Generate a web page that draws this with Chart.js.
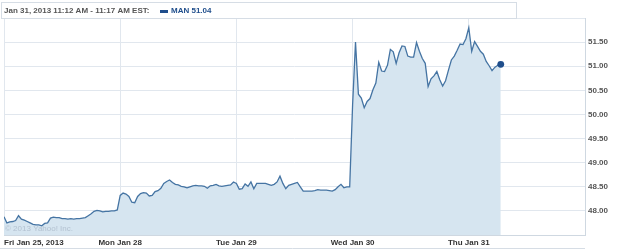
<!DOCTYPE html>
<html>
<head>
<meta charset="utf-8">
<script src="https://cdn.jsdelivr.net/npm/chart.js@4.4.0/dist/chart.umd.min.js"></script>
<style>
body { margin: 0; background: #fff; }
#wrap { width: 625px; height: 251px; }
</style>
</head>
<body>
<div id="wrap"><canvas id="mycanvas"></canvas></div>
<script>
// MAN, 5 trading days, ~10 minute samples (40 per day)
var dayLabels = ['Fri Jan 25, 2013', 'Mon Jan 28', 'Tue Jan 29', 'Wed Jan 30', 'Thu Jan 31'];
var yTicks = [47.5, 48, 48.5, 49, 49.5, 50, 50.5, 51, 51.5, 52];

var fri = [47.88, 47.75, 47.77, 47.78, 47.80, 47.90, 47.83, 47.81, 47.78, 47.75,
           47.72, 47.71, 47.71, 47.69, 47.74, 47.75, 47.85, 47.87, 47.86, 47.86,
           47.84, 47.84, 47.83, 47.84, 47.83, 47.84, 47.84, 47.85, 47.86, 47.90,
           47.94, 47.99, 48.01, 48.00, 47.98, 47.99, 47.99, 48.00, 48.00, 48.02];
var mon = [48.32, 48.37, 48.35, 48.30, 48.18, 48.17, 48.30, 48.36, 48.38, 48.37,
           48.31, 48.32, 48.40, 48.42, 48.47, 48.57, 48.61, 48.64, 48.59, 48.55,
           48.54, 48.51, 48.50, 48.48, 48.50, 48.52, 48.53, 48.52, 48.52, 48.51,
           48.47, 48.52, 48.53, 48.55, 48.52, 48.51, 48.52, 48.53, 48.54, 48.60];
var tue = [48.57, 48.45, 48.46, 48.56, 48.51, 48.60, 48.46, 48.57, 48.57, 48.57,
           48.57, 48.55, 48.53, 48.55, 48.60, 48.72, 48.57, 48.46, 48.53, 48.55,
           48.57, 48.59, 48.50, 48.41, 48.41, 48.41, 48.41, 48.42, 48.44, 48.43,
           48.43, 48.43, 48.42, 48.41, 48.44, 48.50, 48.55, 48.48, 48.50, 48.50];
var wed = [50.20, 51.50, 50.42, 50.34, 50.14, 50.27, 50.33, 50.51, 50.65, 51.08,
           50.90, 50.89, 51.02, 51.35, 51.30, 51.06, 51.28, 51.42, 51.41, 51.21,
           51.19, 51.19, 51.49, 51.31, 51.16, 51.06, 50.58, 50.74, 50.80, 50.89,
           50.72, 50.59, 50.70, 50.92, 51.13, 51.21, 51.33, 51.46, 51.45, 51.57];
var thu = [51.80, 51.31, 51.51, 51.41, 51.31, 51.25, 51.10, 51.01, 50.91, 50.98,
           51.02, 51.04];

var days = [fri, mon, tue, wed, thu];
var perDay = 40;

var points = [];
for (var d = 0; d < days.length; d++) {
    for (var i = 0; i < days[d].length; i++) {
        points.push({ x: d + i / perDay, y: days[d][i] });
    }
}
var last = points.length - 1;

var gridColor = '#e1e7ee';
var labelFont = { family: 'Liberation Sans', size: 8, weight: 'bold' };

var frame = {
    id: 'frame',
    afterDraw: function(chart) {
        var c = chart.ctx;
        c.save();
        // watermark
        c.font = '8px "Liberation Sans"';
        c.fillStyle = 'rgba(175,190,205,0.9)';
        c.textBaseline = 'middle';
        c.fillText('\u00a9 2013 Yahoo! Inc.', 5, 229);
        // header box
        c.strokeStyle = '#d6dde5';
        c.lineWidth = 1;
        c.strokeRect(1.5, 2.5, 515, 16);
        c.font = 'bold 8px "Liberation Sans"';
        c.fillStyle = '#555';
        c.fillText('Jan 31, 2013 11:12 AM - 11:17 AM EST:', 4, 11);
        c.fillStyle = '#1f4e8c';
        c.fillRect(160, 10, 8, 3);
        c.fillText('MAN 51.04', 171, 11);
        // bottom frame line
        c.strokeStyle = '#d6dde5';
        c.beginPath();
        c.moveTo(0, 248.5);
        c.lineTo(585, 248.5);
        c.stroke();
        c.restore();
    }
};

var ctx = document.getElementById('mycanvas');

var lineChart = new Chart(ctx, {
    type: 'line',
    data: {
        datasets: [{
            label: 'MAN',
            data: points,
            borderColor: '#4574a3',
            borderWidth: 1.3,
            backgroundColor: '#d6e5f0',
            fill: 'start',
            tension: 0,
            pointRadius: function(c) { return c.dataIndex === last ? 3.4 : 0; },
            pointBackgroundColor: '#1f4e8c',
            pointBorderColor: '#1f4e8c',
            pointBorderWidth: 0
        }]
    },
    options: {
        responsive: true,
        maintainAspectRatio: false,
        animation: false,
        events: [],
        layout: { padding: { top: 18, left: 1, right: 0, bottom: 0 } },
        plugins: { legend: { display: false }, tooltip: { enabled: false } },
        scales: {
            x: {
                type: 'linear',
                z: 1,
                min: 0,
                max: 5,
                afterBuildTicks: function(scale) {
                    scale.ticks = [0, 1, 2, 3, 4, 5].map(function(v) { return { value: v }; });
                },
                afterFit: function(scale) { scale.height = 16; },
                ticks: {
                    autoSkip: false,
                    maxRotation: 0,
                    align: 'inner',
                    padding: 3,
                    color: '#333',
                    font: labelFont,
                    callback: function(v) { return dayLabels[v] || ''; }
                },
                grid: { color: gridColor, drawTicks: false },
                border: { color: '#cfd8e1' }
            },
            y: {
                position: 'right',
                z: 1,
                min: 47.5,
                max: 52,
                afterBuildTicks: function(scale) {
                    scale.ticks = yTicks.map(function(v) { return { value: v }; });
                },
                afterFit: function(scale) { scale.width = 40; },
                ticks: {
                    padding: 3,
                    color: '#555',
                    font: labelFont,
                    callback: function(v) {
                        return (v >= 48 && v <= 51.5) ? v.toFixed(2) : '';
                    }
                },
                grid: { color: gridColor, drawTicks: false },
                border: { color: '#cfd8e1' }
            }
        }
    },
    plugins: [frame]
});
</script>
</body>
</html>
